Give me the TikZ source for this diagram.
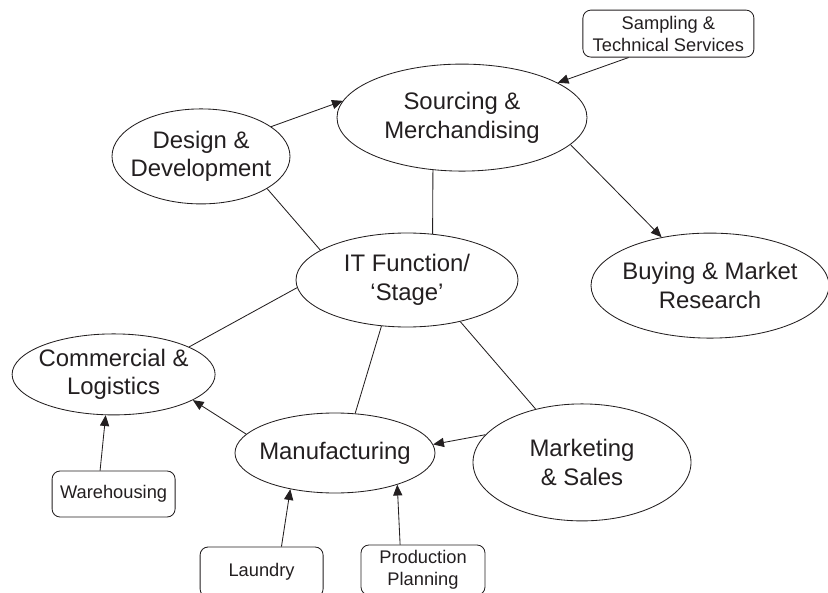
\documentclass[tikz,border=0pt]{standalone}
\usepackage{fontspec}
\setmainfont{Liberation Sans}
\usetikzlibrary{shapes.geometric, arrows.meta}
\definecolor{inkcolor}{RGB}{35, 31, 32}
\tikzstyle{stage} = [ellipse, draw=inkcolor, line width=0.6pt, text=inkcolor, align=center,
                     inner xsep=-1.5cm, inner ysep=0pt, font=\fontsize{17}{20.5}\selectfont]
\tikzstyle{support} = [rectangle, rounded corners=2mm, draw=inkcolor, line width=0.6pt, text=inkcolor,
                       align=center, inner sep=1pt, font=\fontsize{13}{15.5}\selectfont]
\tikzstyle{arrow} = [-{Triangle[length=2.7mm, width=2.3mm]}, line width=0.6pt, draw=inkcolor]
\tikzstyle{link} = [line width=0.6pt, draw=inkcolor]
\begin{document}
\begin{tikzpicture}
    \useasboundingbox (0,0) rectangle (20.7,14.8);
    % Stages
    \node[stage, minimum width=6.25cm, minimum height=2.675cm] (sourcing) at (11.55,11.86) {Sourcing \&\\Merchandising};
    \node[stage, minimum width=4.45cm, minimum height=2.375cm] (design) at (5.025,10.89) {Design \&\\Development};
    \node[stage, minimum width=5.55cm, minimum height=2.35cm] (itfunc) at (10.175,7.8) {IT Function/\\‘Stage’};
    \node[stage, minimum width=5.95cm, minimum height=2.625cm] (buying) at (17.75,7.66) {Buying \& Market\\Research};
    \node[stage, minimum width=5.075cm, minimum height=2.025cm] (commercial) at (2.84,5.44) {Commercial \&\\Logistics};
    \node[stage, minimum width=5cm, minimum height=2cm] (manufacturing) at (8.375,3.475) {Manufacturing};
    \node[stage, minimum width=5.45cm, minimum height=2.925cm] (marketing) at (14.55,3.24) {Marketing\\\& Sales};
    
    % Supporting functions
    \node[support, minimum width=4.275cm, minimum height=1.175cm] (sampling) at (16.71,13.96) {Sampling \&\\Technical Services};
    \node[support, minimum width=3.075cm, minimum height=1.15cm] (warehousing) at (2.84,2.45) {Warehousing};
    \node[support, minimum width=3.075cm, minimum height=1.25cm] (laundry) at (6.54,0.5) {Laundry};
    \node[support, minimum width=3.1cm, minimum height=1.25cm] (planning) at (10.575,0.55) {Production\\Planning};
    
    % Flows
    \draw[arrow] (design.23.8) -- (sourcing.172.8);
    \draw[arrow] (sampling.211.4) -- (sourcing.20.3);
    \draw[arrow] (sourcing.-14.3) -- (buying.135.3);
    \draw[arrow] (manufacturing.168.9) -- (commercial.-18.6);
    \draw[arrow] (marketing.164.2) -- (manufacturing.5.7);
    \draw[arrow] (warehousing.120.4) -- (commercial.259.5);
    \draw[arrow] (laundry.52) -- (manufacturing.219.7);
    \draw[arrow] (planning.132) -- (manufacturing.-27.6);
    
    % Links to IT
    \draw[link] (sourcing.241.5) -- (itfunc.61);
    \draw[link] (design.-26.2) -- (itfunc.161.6);
    \draw[link] (itfunc.184.1) -- (commercial.20.5);
    \draw[link] (itfunc.241.6) -- (manufacturing.63.4);
    \draw[link] (itfunc.-38.5) -- (marketing.131.9);
\end{tikzpicture}
\end{document}
